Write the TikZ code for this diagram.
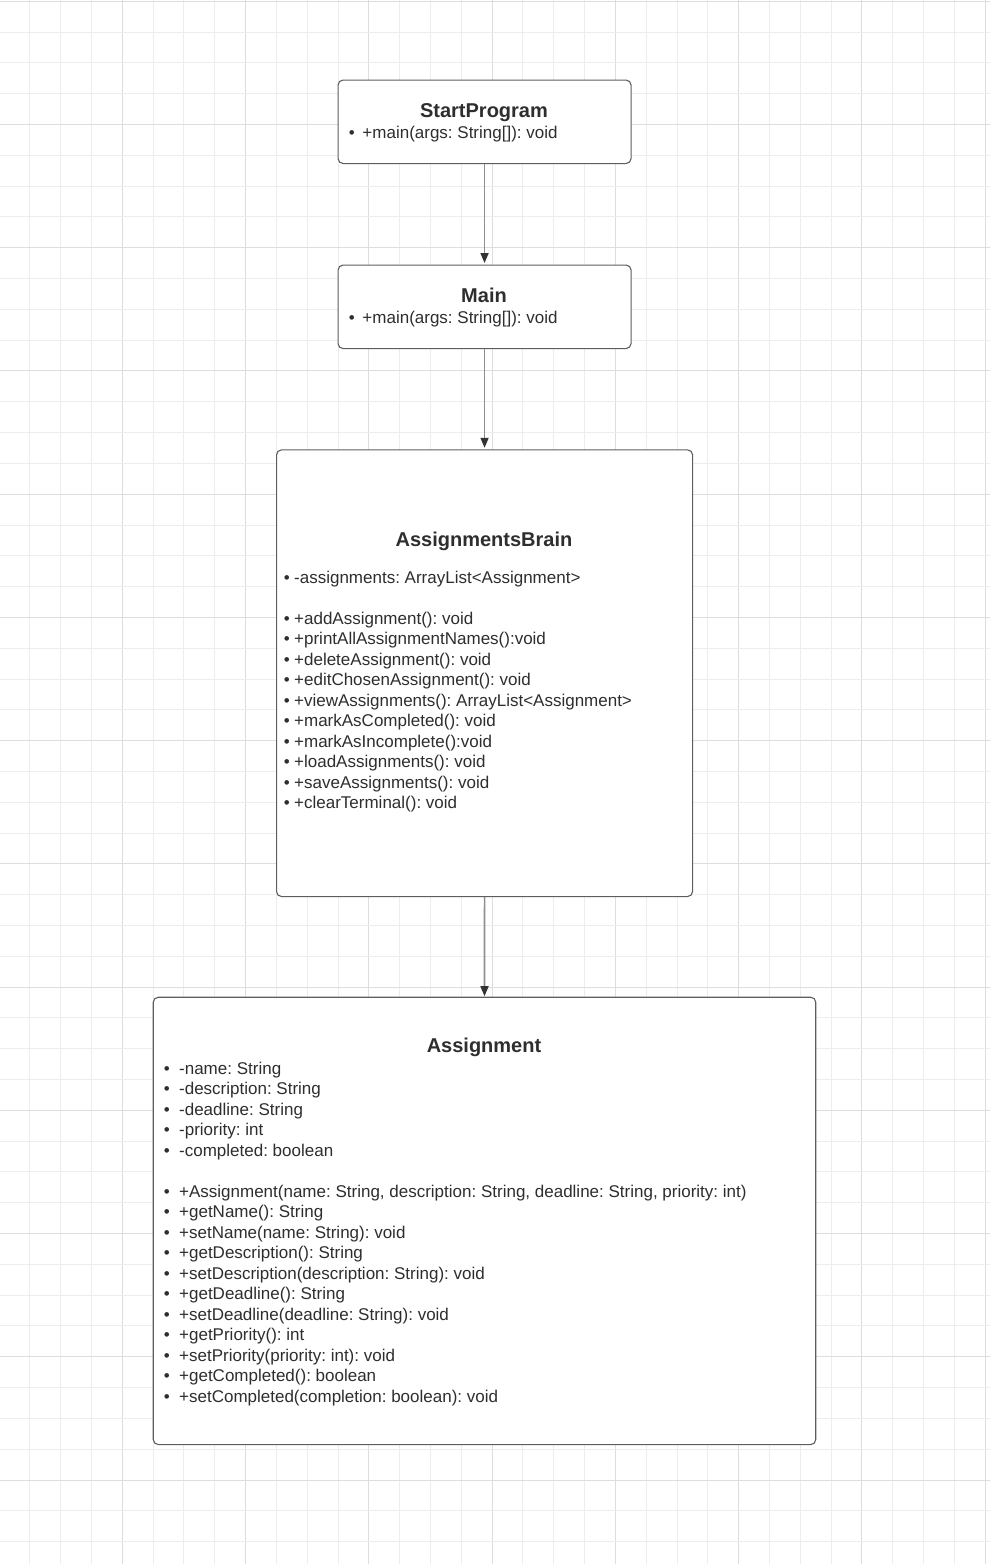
\documentclass[tikz,border=0pt]{standalone}
\usepackage{fontspec}
\setmainfont{Liberation Sans}
\usetikzlibrary{arrows.meta}
\frenchspacing

\definecolor{gridminor}{HTML}{EDEDED}
\definecolor{gridmajor}{HTML}{DEDEDE}
\definecolor{boxline}{HTML}{5E5E5E}
\definecolor{ink}{HTML}{2E2E2E}
\definecolor{wire}{HTML}{8E8E8E}
\definecolor{tipcol}{HTML}{333333}

\tikzset{
  classbox/.style={draw=boxline, line width=1.1pt, rounded corners=5pt, fill=white,
                   anchor=north west, inner sep=0pt},
  classname/.style={font=\fontsize{20}{24}\selectfont\bfseries, text=ink, anchor=base, inner sep=0pt},
  member/.style={font=\fontsize{17}{20.5}\selectfont, text=ink, anchor=base west, inner sep=0pt},
  assoc/.style={draw=wire, line width=1.6pt,
                -{Triangle[width=8pt,length=10pt,color=tipcol,fill=tipcol]}},
}
% one bulleted member line, bullet gap given as first argument
\newcommand\bulletitem[2]{\makebox[#1][l]{•}#2}

\begin{document}
\begin{tikzpicture}[x=1pt,y=-1pt]
  \useasboundingbox (0,0) rectangle (990,1564);
  \fill[white] (0,0) rectangle (990,1564);

  % background grid
  \foreach \k in {0,...,32} {
    \pgfmathsetmacro\gx{-0.98+30.82*\k}
    \pgfmathtruncatemacro\ismaj{mod(\k,4)==0}
    \ifnum\ismaj=1
      \draw[gridmajor, line width=1pt] (\gx,0) -- (\gx,1564);
    \else
      \draw[gridminor, line width=1pt] (\gx,0) -- (\gx,1564);
    \fi
  }
  \foreach \k in {0,...,50} {
    \pgfmathsetmacro\gy{1.3+30.806*\k}
    \pgfmathtruncatemacro\ismaj{mod(\k,4)==0}
    \ifnum\ismaj=1
      \draw[gridmajor, line width=1pt] (0,\gy) -- (990,\gy);
    \else
      \draw[gridminor, line width=1pt] (0,\gy) -- (990,\gy);
    \fi
  }

  % StartProgram
  \node[classbox, minimum width=293pt, minimum height=83.5pt] (startprog) at (337.5,79.5) {};
  \node[classname] (startprog-name) at (484,117) {StartProgram};
  \node[member] (startprog-m1) at (348.7,138) {\bulletitem{13.6pt}{+main(args: String[]): void}};

  % Main
  \node[classbox, minimum width=293pt, minimum height=83.5pt] (main) at (337.5,264.5) {};
  \node[classname] (main-name) at (484,302) {Main};
  \node[member] (main-m1) at (348.7,323) {\bulletitem{13.6pt}{+main(args: String[]): void}};

  % AssignmentsBrain
  \node[classbox, minimum width=416pt, minimum height=446.7pt] (brain) at (276,449.3) {};
  \node[classname] (brain-name) at (484,546) {AssignmentsBrain};
  \node[member] (brain-a1) at (283.7,583) {\bulletitem{10.3pt}{-assignments: ArrayList<Assignment>}};
  \foreach \t [count=\i from 0] in {
      {+addAssignment(): void},
      {+printAllAssignmentNames():void},
      {+deleteAssignment(): void},
      {+editChosenAssignment(): void},
      {+viewAssignments(): ArrayList<Assignment>},
      {+markAsCompleted(): void},
      {+markAsIncomplete():void},
      {+loadAssignments(): void},
      {+saveAssignments(): void},
      {+clearTerminal(): void}} {
    \node[member] (brain-m\i) at (283.7,{624+20.5*\i}) {\bulletitem{10.3pt}{\t}};
  }

  % Assignment
  \node[classbox, minimum width=662.5pt, minimum height=447.3pt] (assignment) at (152.7,996.7) {};
  \node[classname] (assignment-name) at (484,1052) {Assignment};
  \foreach \t [count=\i from 0] in {
      {-name: String},
      {-description: String},
      {-deadline: String},
      {-priority: int},
      {-completed: boolean}} {
    \node[member] (assignment-a\i) at (163.7,{1074.3+20.5*\i}) {\bulletitem{15.3pt}{\t}};
  }
  \foreach \t [count=\i from 0] in {
      {+Assignment(name: String, description: String, deadline: String, priority: int)},
      {+getName(): String},
      {+setName(name: String): void},
      {+getDescription(): String},
      {+setDescription(description: String): void},
      {+getDeadline(): String},
      {+setDeadline(deadline: String): void},
      {+getPriority(): int},
      {+setPriority(priority: int): void},
      {+getCompleted(): boolean},
      {+setCompleted(completion: boolean): void}} {
    \node[member] (assignment-m\i) at (163.7,{1197.3+20.5*\i}) {\bulletitem{15.3pt}{\t}};
  }

  % connectors
  \draw[assoc] (startprog.south) -- ([yshift=1.5pt]main.north);
  \draw[assoc] (main.south) -- ([yshift=1.5pt]brain.north);
  \draw[assoc] (brain.south) -- ([yshift=0.5pt]assignment.north);
\end{tikzpicture}
\end{document}
